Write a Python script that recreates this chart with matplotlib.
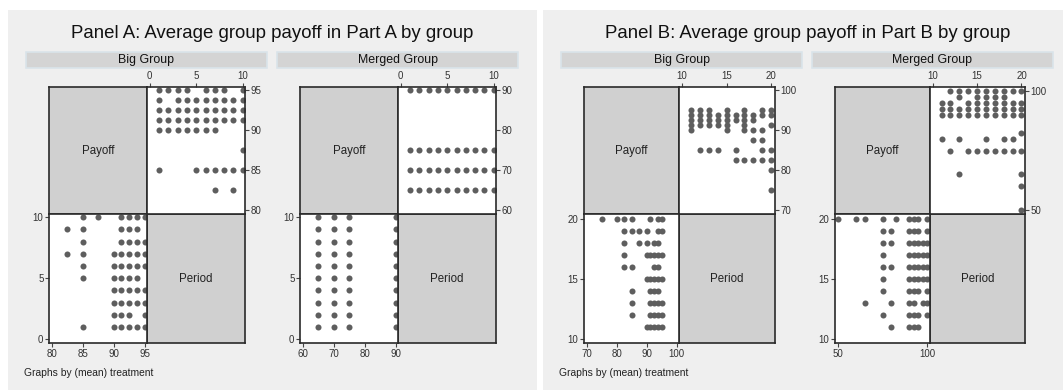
import matplotlib
matplotlib.use("Agg")
import matplotlib.pyplot as plt
from matplotlib.patches import Rectangle

plt.rcParams['font.family'] = ['Liberation Sans', 'DejaVu Sans']

# ---- data: payoffs observed in each period ----
periods_a = list(range(1, 11))
periods_b = list(range(11, 21))

# Panel A, Big Group
a_big = [
    [95, 93.75, 92.5, 91.25, 90, 85],
    [95, 92.5, 91.25, 90],
    [95, 93.75, 92.5, 91.25, 90],
    [95, 93.75, 92.5, 91.25, 90],
    [93.75, 92.5, 91.25, 90, 85],
    [95, 93.75, 92.5, 91.25, 90, 85],
    [95, 93.75, 92.5, 91.25, 90, 85, 82.5],
    [95, 93.75, 92.5, 91.25, 85],
    [93.75, 92.5, 91.25, 85, 82.5],
    [95, 93.75, 92.5, 91.25, 87.5, 85],
]
# Panel A, Merged Group
a_merged = [[90, 75, 70, 65] for _ in periods_a]

# Panel B, Big Group
b_big = [
    [95, 93.75, 92.5, 91.25, 90],
    [95, 93.75, 92.5, 91.25, 85],
    [95, 93.75, 92.5, 91.25, 85],
    [93.75, 92.5, 91.25, 85],
    [95, 93.75, 92.5, 91.25, 90],
    [93.75, 92.5, 85, 82.5],
    [95, 93.75, 92.5, 91.25, 90, 82.5],
    [93.75, 92.5, 90, 87.5, 82.5],
    [95, 93.75, 90, 87.5, 85, 82.5],
    [95, 93.75, 91.25, 85, 82.5, 80, 75],
]
# Panel B, Merged Group
b_merged = [
    [95, 92.5, 90, 80],
    [100, 95, 92.5, 90, 75],
    [100, 97.5, 92.5, 90, 80, 65],
    [100, 95, 92.5, 90, 75],
    [100, 97.5, 95, 92.5, 90, 75],
    [100, 97.5, 95, 92.5, 90, 80, 75],
    [100, 97.5, 95, 92.5, 90, 75],
    [100, 97.5, 95, 92.5, 90, 80, 75],
    [100, 95, 92.5, 90, 80, 75],
    [100, 95, 92.5, 90, 82.5, 75, 65, 60, 50],
]

panel_titles = ["Panel A: Average group payoff in Part A by group",
                "Panel B: Average group payoff in Part B by group"]
group_names = ["Big Group", "Merged Group"]
footnote = "Graphs by (mean) treatment"

W, H = 1063, 390
BG = '#efefef'
DIAG = '#d0d0d0'
DOT = '#5e5e5e'
EDGE = '#2a2a2a'

fig = plt.figure(figsize=(W / 100, H / 100), dpi=100)
fig.patch.set_facecolor('white')


def box(x0, y0, x1, y1):
    return [x0 / W, 1 - y1 / H, (x1 - x0) / W, (y1 - y0) / H]


def flatten(periods, payoffs):
    xs, ys = [], []
    for p, vals in zip(periods, payoffs):
        for v in vals:
            xs.append(p)
            ys.append(v)
    return xs, ys


def style(ax):
    for s in ax.spines.values():
        s.set_color(EDGE)
        s.set_linewidth(1.2)
    ax.tick_params(length=3, width=0.8, color='#444444', labelsize=7,
                   labelcolor='#333333', pad=1)


def draw_matrix(x0, xm, x1, periods, payoffs, per_lim, per_ticks,
                pay_lim, pay_ticks, right_ticks=None):
    y0, ym, y1 = 87, 214, 343
    xs, ys = flatten(periods, payoffs)

    # top-left diagonal cell
    ax = fig.add_axes(box(x0, y0, xm, ym))
    ax.set_facecolor(DIAG)
    ax.set_xticks([])
    ax.set_yticks([])
    style(ax)
    ax.text(0.5, 0.5, "Payoff", ha='center', va='center', fontsize=8.3,
            color='#222222', transform=ax.transAxes)

    # bottom-right diagonal cell
    ax = fig.add_axes(box(xm, ym, x1, y1))
    ax.set_facecolor(DIAG)
    ax.set_xticks([])
    ax.set_yticks([])
    style(ax)
    ax.text(0.5, 0.5, "Period", ha='center', va='center', fontsize=8.3,
            color='#222222', transform=ax.transAxes)

    # top-right: payoff vs period
    ax = fig.add_axes(box(xm, y0, x1, ym))
    ax.set_facecolor('white')
    ax.scatter(xs, ys, s=19, color=DOT, linewidths=0)
    ax.set_xlim(per_lim)
    ax.set_ylim(pay_lim)
    ax.set_xticks(per_ticks)
    ax.set_yticks(right_ticks if right_ticks is not None else pay_ticks)
    ax.xaxis.tick_top()
    ax.yaxis.tick_right()
    style(ax)

    # bottom-left: period vs payoff
    ax = fig.add_axes(box(x0, ym, xm, y1))
    ax.set_facecolor('white')
    ax.scatter(ys, xs, s=19, color=DOT, linewidths=0)
    ax.set_xlim(pay_lim)
    ax.set_ylim(per_lim)
    ax.set_xticks(pay_ticks)
    ax.set_yticks(per_ticks)
    style(ax)


# panel backgrounds, titles, strips
panel_x = [(8, 537), (543, 1072)]
strip_x = [[(26, 267), (277, 518)], [(561, 802), (812, 1053)]]
for i, (px0, px1) in enumerate(panel_x):
    fig.patches.append(Rectangle((px0 / W, 0), (px1 - px0) / W, 1 - 10 / H,
                                 transform=fig.transFigure, facecolor=BG,
                                 edgecolor='none', zorder=-10))
    fig.text((px0 + px1) / 2 / W, 1 - 34 / H, panel_titles[i], ha='center',
             va='center', fontsize=13.4, color='#111111')
    for j, (sx0, sx1) in enumerate(strip_x[i]):
        fig.patches.append(Rectangle((sx0 / W, 1 - 68 / H), (sx1 - sx0) / W,
                                     16 / H, transform=fig.transFigure,
                                     facecolor='#d4d4d4', edgecolor='#dae4ea',
                                     linewidth=1.2, zorder=-5))
        fig.text((sx0 + sx1) / 2 / W, 1 - 60 / H, group_names[j],
                 ha='center', va='center', fontsize=8.9, color='#111111')
    fig.text((px0 + 16) / W, 1 - 373 / H, footnote, ha='left', va='center',
             fontsize=7.4, color='#222222')

draw_matrix(49, 147, 245, periods_a, a_big, (-0.3, 10.25), [0, 5, 10],
            (79.5, 95.4), [80, 85, 90, 95])
draw_matrix(300, 398, 496, periods_a, a_merged, (-0.3, 10.25), [0, 5, 10],
            (59.0, 90.8), [60, 70, 80, 90])
draw_matrix(584, 679, 775, periods_b, b_big, (9.7, 20.4), [10, 15, 20],
            (69.0, 100.8), [70, 80, 90, 100])
draw_matrix(835, 930, 1025, periods_b, b_merged, (9.7, 20.4), [10, 15, 20],
            (48.5, 101.5), [50, 100], right_ticks=[50, 100])

fig.savefig("out.png", dpi=100, facecolor=fig.get_facecolor())
